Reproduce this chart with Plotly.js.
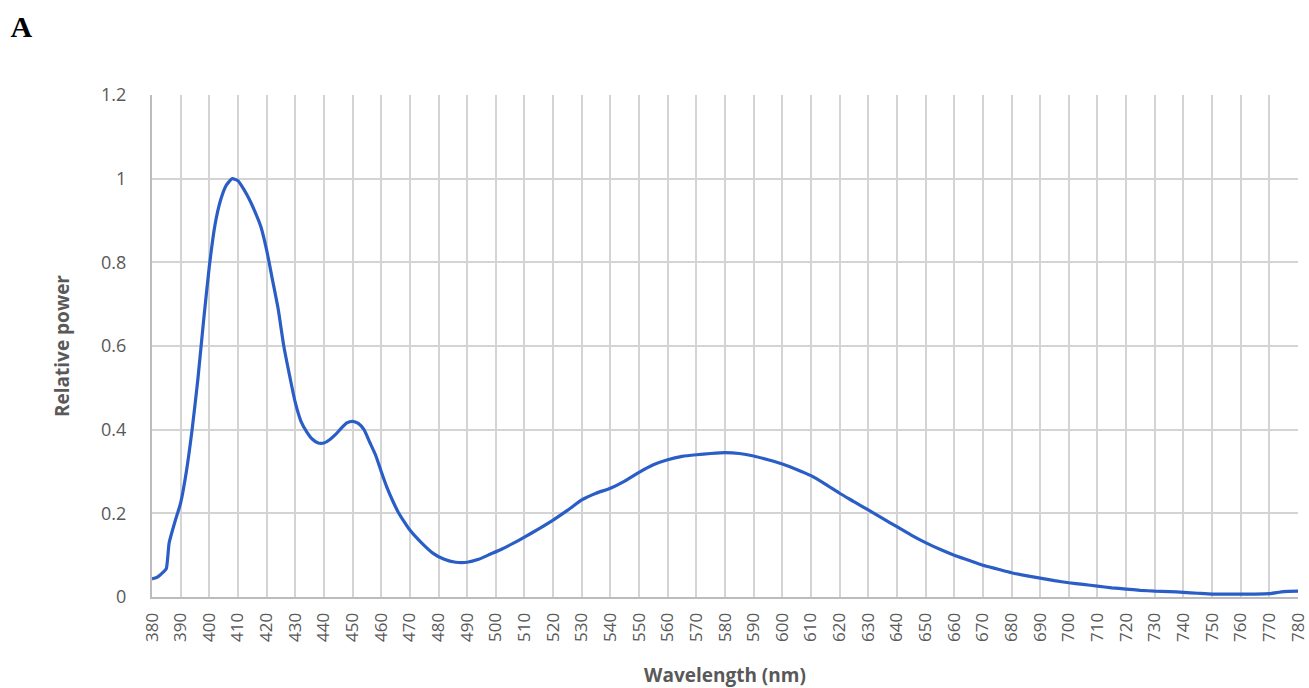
<!DOCTYPE html>
<html>
<head>
<meta charset="utf-8">
<script src="https://cdn.plot.ly/plotly-3.0.1.min.js"></script>
<style>html,body{margin:0;padding:0;background:#fff;}#chart{width:1309px;height:688px;}</style>
</head>
<body>
<div id="chart"></div>
<script>
const wavelength = [380,382,384,385,386,388,390,392,394,396,398,400,402,404,406,408,410,412,414,416,418,420,422,424,426,428,430,432,434,436,438,440,442,444,446,448,450,452,454,456,458,460,462,464,466,468,470,474,478,482,486,490,494,498,502,506,510,515,520,525,530,535,540,545,550,555,560,565,570,575,580,585,590,595,600,605,610,615,620,625,630,635,640,645,650,655,660,665,670,675,680,685,690,695,700,705,710,715,720,725,730,735,740,745,750,755,760,765,770,775,780];
const relativePower = [0.043,0.048,0.060,0.068,0.13,0.18,0.225,0.30,0.40,0.52,0.66,0.79,0.89,0.95,0.985,1.0,0.995,0.975,0.95,0.92,0.885,0.83,0.76,0.69,0.60,0.53,0.465,0.42,0.395,0.377,0.368,0.368,0.376,0.388,0.403,0.416,0.42,0.415,0.40,0.37,0.34,0.30,0.262,0.23,0.202,0.18,0.16,0.13,0.105,0.09,0.083,0.083,0.09,0.102,0.114,0.128,0.143,0.163,0.184,0.207,0.232,0.248,0.26,0.277,0.298,0.316,0.328,0.336,0.34,0.343,0.345,0.343,0.337,0.328,0.318,0.305,0.29,0.27,0.248,0.228,0.208,0.188,0.168,0.148,0.13,0.114,0.1,0.088,0.076,0.067,0.058,0.051,0.045,0.039,0.034,0.030,0.026,0.022,0.019,0.016,0.014,0.013,0.011,0.009,0.007,0.007,0.007,0.007,0.008,0.013,0.014];
const xTicks = [];
for (let v = 380; v <= 780; v += 10) xTicks.push(v);
const yTicks = [0,0.2,0.4,0.6,0.8,1,1.2];
const yTickText = ['0','0.2','0.4','0.6','0.8','1','1.2'];

const trace = {
  x: wavelength, y: relativePower, type: 'scatter', mode: 'lines',
  line: {color: '#2a5ec6', width: 3.2, shape: 'spline', smoothing: 0.5},
  hoverinfo: 'x+y'
};
const layout = {
  width: 1309, height: 688,
  margin: {l: 152, r: 11, t: 95, b: 91},
  paper_bgcolor: '#ffffff', plot_bgcolor: '#ffffff',
  showlegend: false,
  font: {family: 'Open Sans, Noto Sans, sans-serif', color: '#595959', size: 16},
  title: {text: '<b>A</b>', xref: 'container', yref: 'container', x: 0.008, xanchor: 'left', y: 0.962, yanchor: 'middle',
    font: {family: 'Liberation Serif, Times New Roman, serif', size: 30, color: '#000000'}},
  xaxis: {
    range: [380, 780], tickmode: 'array', tickvals: xTicks, ticktext: xTicks.map(String),
    tickangle: -90, showgrid: true, gridcolor: '#d4d4d4', gridwidth: 2,
    zeroline: false, showline: true, linecolor: '#bcbcbc', linewidth: 2,
    ticks: '', ticklabelstandoff: 7,
    tickfont: {size: 17, color: '#595959'},
    title: {text: '<b>Wavelength (nm)</b>', font: {size: 19, color: '#595959'}, standoff: 30}
  },
  yaxis: {
    range: [0, 1.2], tickmode: 'array', tickvals: yTicks, ticktext: yTickText,
    showgrid: true, gridcolor: '#d4d4d4', gridwidth: 2,
    zeroline: false, showline: true, linecolor: '#bcbcbc', linewidth: 2,
    ticks: '', ticklabelstandoff: 20,
    tickfont: {size: 18, color: '#595959'},
    title: {text: '<b>Relative power</b>', font: {size: 19, color: '#595959'}, standoff: 26}
  }
};
Plotly.newPlot('chart', [trace], layout, {displayModeBar: false, staticPlot: true});
</script>
</body>
</html>
